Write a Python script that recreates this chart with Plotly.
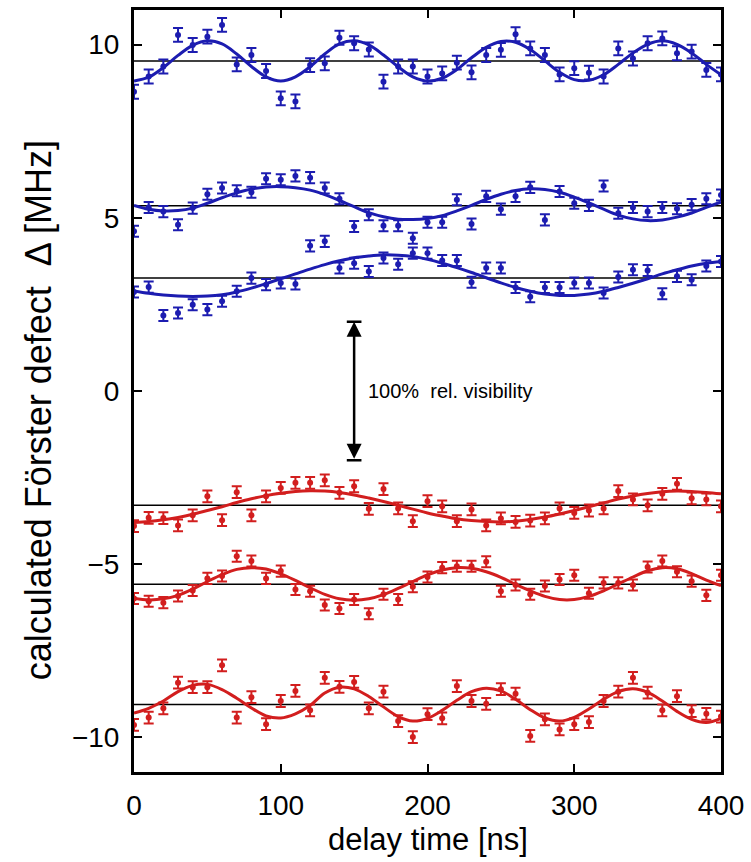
import plotly.graph_objects as go

# ---------------- data ----------------
T = list(range(0, 401, 10))  # delay time [ns]

S1 = [8.64, 9.08, 9.37, 10.28, 9.99, 10.23, 10.57, 9.43, 9.70, 9.24,
      8.45, 8.36, 9.41, 9.46, 10.20, 10.04, 9.86, 8.93, 9.37, 9.37,
      9.08, 9.17, 9.48, 9.20, 9.70, 9.85, 10.30, 9.89, 9.70, 9.14,
      9.32, 9.19, 9.08, 9.89, 9.60, 10.04, 10.18, 9.75, 9.80, 9.27, 9.14]
S2 = [4.61, 5.30, 5.18, 4.80, 5.28, 5.68, 5.86, 5.78, 5.74, 6.13,
      6.10, 6.21, 6.16, 5.86, 5.55, 4.75, 5.09, 4.77, 4.77, 4.41,
      4.87, 4.87, 5.52, 4.82, 5.62, 5.25, 5.62, 5.88, 4.94, 5.76,
      5.42, 5.36, 5.92, 5.13, 5.30, 5.18, 5.30, 5.26, 5.38, 5.55, 5.66]
S3 = [2.86, 3.00, 2.18, 2.25, 2.49, 2.35, 2.59, 2.88, 3.26, 3.07,
      3.12, 3.09, 4.19, 4.32, 3.55, 3.69, 3.45, 3.84, 3.66, 3.98,
      3.98, 3.77, 3.77, 3.14, 3.55, 3.55, 2.99, 2.72, 2.99, 2.99,
      3.12, 3.12, 2.83, 3.29, 3.50, 3.48, 2.81, 3.31, 3.21, 3.61, 3.74]
S4 = [-3.90, -3.66, -3.67, -3.88, -3.59, -3.04, -3.73, -2.92, -3.59, -3.04,
      -2.80, -2.65, -2.65, -2.58, -2.94, -2.75, -3.40, -2.83, -3.39, -3.76,
      -3.18, -3.33, -3.76, -3.42, -3.88, -3.68, -3.78, -3.74, -3.68, -3.39,
      -3.52, -3.45, -3.39, -2.89, -3.13, -3.30, -2.97, -2.68, -3.10, -3.13, -3.33]
S5 = [-5.99, -6.07, -6.11, -5.92, -5.76, -5.41, -5.34, -4.77, -4.91, -5.41,
      -5.20, -5.73, -5.78, -6.18, -6.28, -6.02, -6.43, -5.87, -6.02, -5.65,
      -5.37, -5.10, -5.06, -5.06, -4.93, -5.78, -5.60, -5.87, -5.63, -5.44,
      -5.32, -5.84, -5.54, -5.54, -5.60, -5.08, -4.91, -5.22, -5.49, -5.90, -5.32]
S6 = [-9.64, -9.43, -9.16, -8.42, -8.55, -8.55, -7.92, -9.43, -8.84, -9.62,
      -8.95, -8.66, -9.22, -8.28, -8.54, -8.40, -9.16, -8.68, -9.53, -9.99,
      -9.33, -9.45, -8.52, -8.95, -9.03, -8.61, -8.74, -9.96, -9.48, -9.77,
      -9.62, -9.56, -8.95, -8.68, -8.28, -8.71, -9.22, -8.81, -9.24, -9.32, -9.40]

# fitted curves at the same delay times
F1 = [8.95, 9.06, 9.34, 9.69, 9.98, 10.11, 10.02, 9.73, 9.37, 9.07,
      8.95, 9.07, 9.36, 9.73, 10.02, 10.11, 9.99, 9.70, 9.36, 9.07,
      8.95, 9.03, 9.28, 9.62, 9.92, 10.09, 10.07, 9.86, 9.53, 9.20,
      8.99, 8.97, 9.13, 9.43, 9.76, 10.01, 10.11, 10.01, 9.76, 9.43, 9.13]
F2 = [5.36, 5.25, 5.20, 5.21, 5.28, 5.42, 5.58, 5.72, 5.83, 5.89,
      5.90, 5.87, 5.80, 5.67, 5.50, 5.32, 5.15, 5.03, 4.96, 4.95,
      4.98, 5.06, 5.20, 5.36, 5.53, 5.68, 5.79, 5.84, 5.82, 5.74,
      5.60, 5.43, 5.25, 5.08, 4.97, 4.92, 4.94, 5.02, 5.14, 5.30, 5.45]
F3 = [2.89, 2.82, 2.77, 2.74, 2.73, 2.74, 2.78, 2.86, 2.97, 3.10,
      3.24, 3.38, 3.52, 3.65, 3.76, 3.85, 3.90, 3.93, 3.92, 3.88,
      3.80, 3.69, 3.56, 3.42, 3.27, 3.12, 2.99, 2.88, 2.80, 2.76,
      2.76, 2.80, 2.88, 2.99, 3.11, 3.24, 3.38, 3.50, 3.61, 3.69, 3.74]
F4 = [-3.80, -3.77, -3.72, -3.65, -3.56, -3.45, -3.34, -3.22, -3.11, -3.02,
      -2.95, -2.90, -2.88, -2.89, -2.93, -3.00, -3.09, -3.19, -3.30, -3.41,
      -3.52, -3.61, -3.69, -3.74, -3.77, -3.78, -3.76, -3.71, -3.64, -3.55,
      -3.45, -3.34, -3.23, -3.12, -3.03, -2.96, -2.91, -2.89, -2.90, -2.93, -2.97]
F5 = [-5.98, -6.03, -6.00, -5.90, -5.72, -5.50, -5.30, -5.15, -5.10, -5.14,
      -5.28, -5.47, -5.68, -5.87, -6.00, -6.04, -6.00, -5.88, -5.70, -5.50,
      -5.31, -5.17, -5.10, -5.12, -5.22, -5.38, -5.58, -5.77, -5.93, -6.02,
      -6.02, -5.93, -5.77, -5.57, -5.37, -5.19, -5.10, -5.13, -5.27, -5.46, -5.62]
F6 = [-9.30, -9.16, -8.95, -8.68, -8.50, -8.47, -8.62, -8.87, -9.15, -9.38,
      -9.44, -9.32, -9.08, -8.72, -8.55, -8.60, -8.82, -9.12, -9.40, -9.53,
      -9.45, -9.22, -8.93, -8.68, -8.58, -8.66, -8.90, -9.20, -9.44, -9.53,
      -9.42, -9.18, -8.90, -8.68, -8.60, -8.70, -8.95, -9.25, -9.48, -9.57, -9.45]

BASELINES = [9.53, 5.35, 3.26, -3.30, -5.58, -9.05]
ERRORS = [0.20, 0.16, 0.16, 0.17, 0.16, 0.17]
SERIES = [S1, S2, S3, S4, S5, S6]
FITS = [F1, F2, F3, F4, F5, F6]
GROUP = ["blue", "blue", "blue", "red", "red", "red"]

X_TICKS = [0, 100, 200, 300, 400]
Y_TICKS = [-10, -5, 0, 5, 10]
X_RANGE = [0, 400]
Y_RANGE = [-11, 11]

ARROW_T = 150
VIS_RANGE = [-2, 2]
LABEL_T = 158
LABEL_TEXT = "100%\u00a0 rel. visibility"
Y_TITLE = "calculated Förster defect\u00a0 Δ [MHz]"
X_TITLE = "delay time [ns]"

# ---------------- styles ----------------
COLORS = {"blue": "#1c1cb0", "red": "#d21e1e"}
FONT = "Liberation Sans, Arial, Helvetica, sans-serif"

fig = go.Figure()

for base in BASELINES:
    fig.add_trace(go.Scatter(x=X_RANGE, y=[base, base], mode="lines",
                             line=dict(color="black", width=1.5),
                             hoverinfo="skip", showlegend=False))

for s, f, e, g in zip(SERIES, FITS, ERRORS, GROUP):
    c = COLORS[g]
    fig.add_trace(go.Scatter(x=T, y=f, mode="lines",
                             line=dict(color=c, width=3, shape="spline"),
                             showlegend=False))
    fig.add_trace(go.Scatter(x=T, y=s, mode="markers",
                             marker=dict(color=c, size=6),
                             error_y=dict(type="data", array=[e] * len(s), color=c,
                                          thickness=2, width=5),
                             showlegend=False))

# double arrow (100 % rel. visibility)
fig.add_annotation(x=ARROW_T, y=VIS_RANGE[1], ax=ARROW_T, ay=VIS_RANGE[0],
                   xref="x", yref="y", axref="x", ayref="y", text="",
                   showarrow=True, arrowhead=2, arrowside="end+start",
                   arrowsize=1.2, arrowwidth=2.5, arrowcolor="black")
for yv in VIS_RANGE:
    fig.add_shape(type="line", x0=ARROW_T - 5, x1=ARROW_T + 5, y0=yv, y1=yv,
                  xref="x", yref="y", line=dict(color="black", width=2.5))
fig.add_annotation(x=LABEL_T, y=0, xref="x", yref="y", text=LABEL_TEXT,
                   showarrow=False, xanchor="left", yanchor="middle",
                   font=dict(family=FONT, size=20, color="black"))

# axis titles as annotations (fine placement)
fig.add_annotation(x=-0.163, y=0.475, xref="paper", yref="paper", text=Y_TITLE,
                   textangle=-90, showarrow=False, xanchor="center", yanchor="middle",
                   font=dict(family=FONT, size=36, color="black"))
fig.add_annotation(x=0.5, y=-0.0889, xref="paper", yref="paper", text=X_TITLE,
                   showarrow=False, xanchor="center", yanchor="middle",
                   font=dict(family=FONT, size=31, color="black"))

axis_common = dict(showline=True, linewidth=3, linecolor="black", mirror="ticks",
                   ticks="inside", ticklen=8, tickwidth=2, tickcolor="black",
                   showgrid=False, zeroline=False,
                   tickfont=dict(family=FONT, size=28, color="black"))

fig.update_layout(
    width=751, height=862,
    margin=dict(l=134, r=29, t=7, b=90),
    paper_bgcolor="white", plot_bgcolor="white",
    font=dict(family=FONT, color="black"),
    xaxis=dict(range=X_RANGE, tickvals=X_TICKS, ticklabelstandoff=6, **axis_common),
    yaxis=dict(range=Y_RANGE, tickvals=Y_TICKS, ticklabelstandoff=6, **axis_common),
)

fig.write_html("out.html")
